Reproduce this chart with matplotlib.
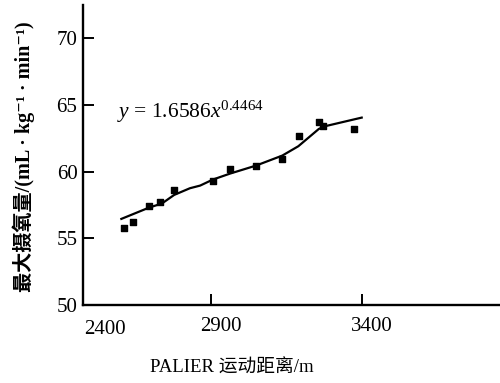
import matplotlib
matplotlib.use('Agg')
from matplotlib import pyplot as plt
from matplotlib.transforms import ScaledTranslation

# measured points (distance m, VO2max mL/kg/min)
dist = [2613, 2641, 2695, 2731, 2778, 2906, 2963, 3049, 3136, 3191, 3257, 3272, 3374]
vo2 = [55.8, 56.2, 57.4, 57.7, 58.6, 59.3, 60.2, 60.45, 60.95, 62.7, 63.75, 63.45, 63.2]

# fitted curve as drawn
line_x = [2603, 2695, 2737, 2778, 2830, 2864, 2906, 2963, 3049, 3136, 3189, 3257, 3277, 3399]
line_y = [56.45, 57.3, 57.6, 58.25, 58.75, 58.95, 59.4, 59.85, 60.45, 61.2, 61.9, 63.2, 63.4, 64.05]

x_ticks = [2900, 3400]
y_ticks = [50, 55, 60, 65, 70]

fam = ['Liberation Serif', 'DejaVu Serif', 'Noto Sans CJK SC']
plt.rcParams['font.family'] = fam
plt.rcParams['mathtext.fontset'] = 'custom'
plt.rcParams['mathtext.rm'] = 'Liberation Serif'
plt.rcParams['mathtext.it'] = 'Liberation Serif:italic'

fig = plt.figure(figsize=(5, 3.83), dpi=100)
ax = fig.add_axes([0.166, 0.204, 0.834, 0.783])

ax.plot(line_x, line_y, '-', color='black', linewidth=1.6)
ax.scatter(dist, vo2, marker='s', s=16, color='black', zorder=3)

ax.set_xlim(2476, 3857)
ax.set_ylim(50, 72.5)
ax.set_xticks(x_ticks)
ax.set_yticks(y_ticks)
ax.tick_params(direction='in', length=8, width=1.4, labelsize=15)
ax.tick_params(axis='x', pad=9)
ax.tick_params(axis='y', pad=4)
# x tick labels in the original sit a little right of their ticks
shift = ScaledTranslation(10 / 100, 0, fig.dpi_scale_trans)
for lab in ax.get_xticklabels():
    lab.set_transform(lab.get_transform() + shift)
ax.spines['top'].set_visible(False)
ax.spines['right'].set_visible(False)
ax.spines['left'].set_linewidth(1.7)
ax.spines['bottom'].set_linewidth(1.7)

# left tick label sits near the axis corner
ax.text(0.053, -0.05, '2400', transform=ax.transAxes, ha='center', va='top', fontsize=15)

ax.text(2590, 64.5, r'$y$ = 1.6586$x^{0.4464}$', fontsize=15.5, ha='left', va='center')

fig.text(0.464, 0.04, 'PALIER 运动距离/m', ha='center', va='center', fontsize=13.5, family=fam)
fig.text(0.048, 0.59, '最大摄氧量/(mL · kg⁻¹ · min⁻¹)', ha='center', va='center',
         rotation=90, fontsize=14.5, family=fam, fontweight='bold')

plt.savefig('out.png', dpi=100)
